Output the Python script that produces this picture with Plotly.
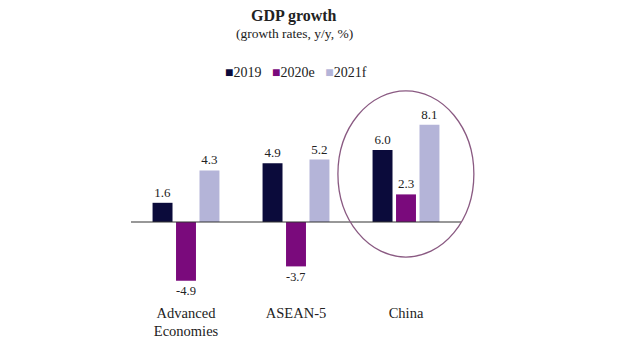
import plotly.graph_objects as go

categories = ["Advanced<br>Economies", "ASEAN-5", "China"]
series_names = ["2019", "2020e", "2021f"]
values_2019 = [1.6, 4.9, 6.0]
values_2020e = [-4.9, -3.7, 2.3]
values_2021f = [4.3, 5.2, 8.1]
colors = ["#0b0b3b", "#7a0a7c", "#b4b4d8"]

fig = go.Figure()
for name, vals, col in zip(series_names, [values_2019, values_2020e, values_2021f], colors):
    fig.add_trace(go.Bar(
        x=categories, y=vals, name=name, marker=dict(color=col, line=dict(width=0)),
        text=[f"{v:.1f}" for v in vals], textposition="outside",
        textfont=dict(family="Liberation Serif", size=13, color="#222"),
        cliponaxis=False, showlegend=False,
    ))

legend_text = "&#160;&#160;&#160;".join(
    f"<span style='color:{c}'>■</span>{n}" for n, c in zip(series_names, colors)
)

L, R, T, B = 123, 167, 94, 63
fig.update_layout(
    width=620, height=355,
    margin=dict(l=L, r=R, t=T, b=B, autoexpand=False),
    paper_bgcolor="white", plot_bgcolor="white",
    barmode="group", bargap=0.36, bargroupgap=0.15,
    font=dict(family="Liberation Serif", size=13, color="#222"),
    showlegend=False,
    xaxis=dict(showgrid=False, showline=False, ticks="", tickfont=dict(size=14.5),
               zeroline=False, ticklabelstandoff=2),
    yaxis=dict(range=[-6.5, 10], visible=False, zeroline=True),
    annotations=[
        dict(text="<b>GDP growth</b>", x=0.495, y=1.435, xref="paper", yref="paper",
             showarrow=False, font=dict(size=16), xanchor="center", yanchor="middle"),
        dict(text="(growth rates, y/y, %)", x=0.495, y=1.345, xref="paper", yref="paper",
             showarrow=False, font=dict(size=13.5), xanchor="center", yanchor="middle"),
        dict(text=legend_text, x=0.5, y=1.15, xref="paper", yref="paper",
             showarrow=False, font=dict(size=14), xanchor="center", yanchor="middle"),
    ],
    shapes=[
        dict(type="line", xref="paper", yref="y", x0=0, x1=1, y0=0, y1=0,
             line=dict(color="#333", width=1.2)),
        dict(type="circle", xref="paper", yref="paper", x0=0.627, x1=1.039,
             y0=0.217, y1=1.056, line=dict(color="#8a5a82", width=1.3), layer="above"),
    ],
)
fig.write_html("out.html")
